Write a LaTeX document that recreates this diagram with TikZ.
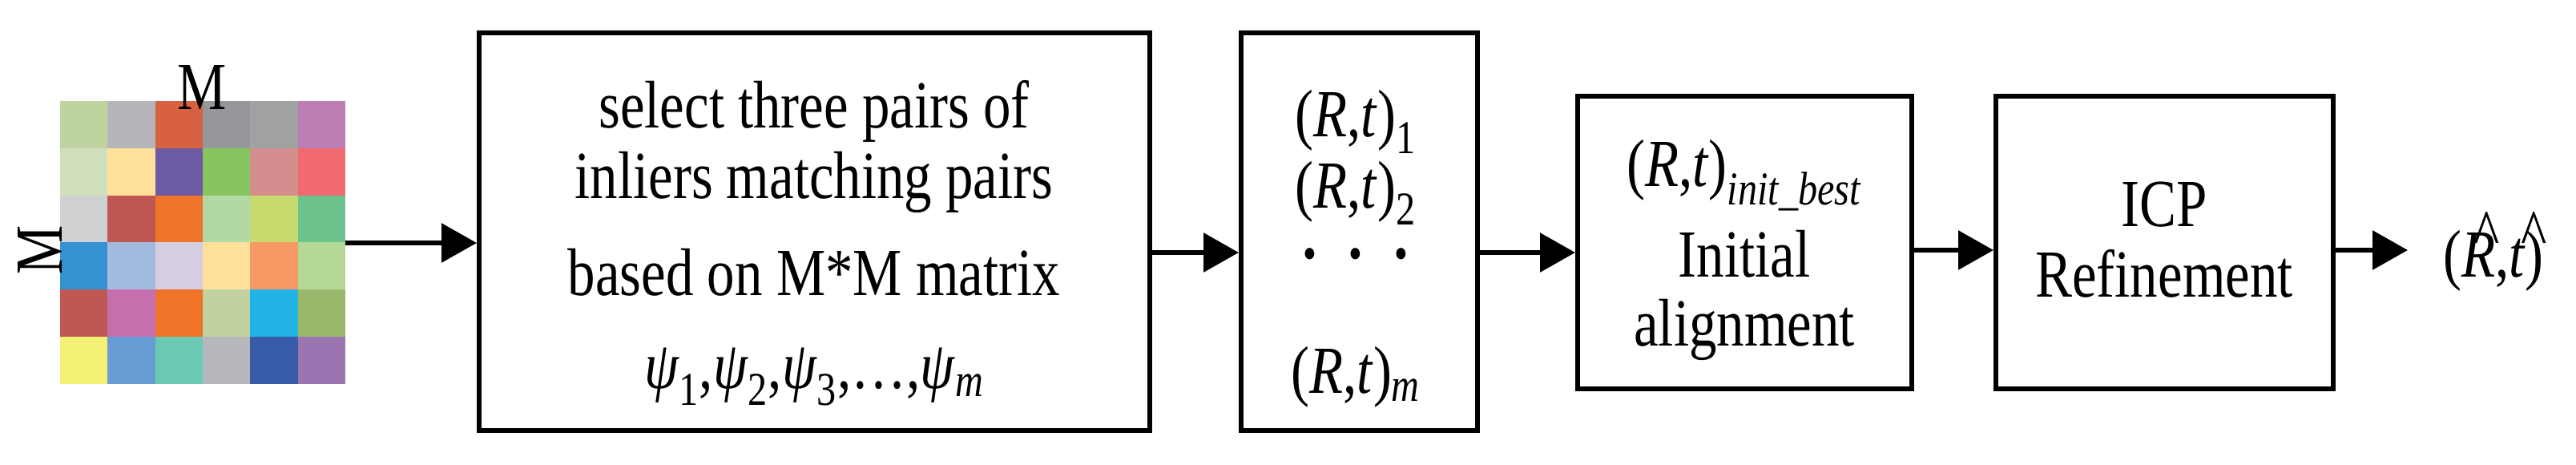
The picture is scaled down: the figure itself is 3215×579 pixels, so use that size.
\documentclass[tikz,border=0pt]{standalone}
\usepackage{fontspec}
\setmainfont{Liberation Serif}[FakeStretch=0.82]
\usetikzlibrary{arrows.meta}
\newcommand{\myRt}[1]{(\textit{R},\textit{t})\textsubscript{#1}}
\newcommand{\hatit}[1]{\leavevmode\rlap{\raisebox{0.3em}{\kern0.18em\textasciicircum}}\textit{#1}}
\begin{document}
\begin{tikzpicture}[x=0.5pt,y=-0.5pt,
  box/.style={draw,line width=3pt,inner sep=0pt},
  txt/.style={font=\fontsize{42}{48}\selectfont,inner sep=0pt,anchor=base},
  arr/.style={line width=3pt,-{Triangle[length=22pt,width=24pt]}}]
\useasboundingbox (0,0) rectangle (3215,579);
% grid
\def\cw{59.33}\def\ch{58.83}
\foreach \row/\cols in {0/{BED3A0,B5B6B9,D86142,96979A,A0A1A2,BC7FB4},
 1/{D2DFBD,FDE09A,6C5AA5,87C560,D58E8E,F06A70},
 2/{D0D1D3,BF5753,EF7329,B2D9A3,C7DB6E,6DC38C},
 3/{3592D0,A3BADF,D5CEE1,FDE09A,F69964,B4D995},
 4/{BF5753,C570AC,EF7329,BFD2A0,22B3E6,9AB86B},
 5/{F4EF75,679CD4,6BC8B3,B6B7BA,395CA9,9B74B2}}{
  \foreach \c [count=\i from 0] in \cols {
    \definecolor{cc}{HTML}{\c}
    \fill[cc] (75+\i*\cw,126+\row*\ch) rectangle ++(\cw,\ch);
  }
}
\node[txt] (mt) at (252,136) {M};
\node[txt,rotate=90,anchor=center] (ml) at (50,312) {M};
\coordinate (g) at (431,303);
% boxes
\node[box,minimum width=418.5pt,minimum height=248pt] (b1) at (1016.5,289) {};
\node[box,minimum width=147.5pt,minimum height=248pt] (b2) at (1696.5,289) {};
\node[box,minimum width=208.5pt,minimum height=182.5pt] (b3) at (2177.5,302.5) {};
\node[box,minimum width=210.5pt,minimum height=182.5pt] (b4) at (2701.5,302.5) {};
% texts
\node[txt] (t11) at (1016,159) {select three pairs of};
\node[txt] (t12) at (1016,247) {inliers matching pairs};
\node[txt] (t13) at (1016,368) {based on M*M matrix};
\node[txt] (t14) at (1016,484) {\textit{ψ}\textsubscript{1},\textit{ψ}\textsubscript{2},\textit{ψ}\textsubscript{3},…,\textit{ψ}\textsubscript{\textit{m}}};
\node[txt] (t21) at (1692,170) {\myRt{1}};
\node[txt] (t22) at (1692,259) {\myRt{2}};
\node[txt] (t23) at (1692,356) {{\fontsize{60}{60}\selectfont · · ·}};
\node[txt] (t24) at (1692,490) {\myRt{\textit{m}}};
\node[txt] (t31) at (2177,232) {\myRt{\textit{init\_best}}};
\node[txt] (t32) at (2177,345) {Initial};
\node[txt] (t33) at (2177,431) {alignment};
\node[txt] (t41) at (2701,282) {ICP};
\node[txt] (t42) at (2701,370) {Refinement};
\node[txt] (out) at (3112,345) {(\hatit{R},\hatit{t})};
% arrows
\draw[arr] (g) -- (g -| b1.west);
\coordinate (a2) at (1435,315);
\draw[arr] (a2 -| b1.east) -- (a2 -| b2.west);
\draw[arr] (a2 -| b2.east) -- (a2 -| b3.west);
\coordinate (a3) at (2386,312);
\draw[arr] (a3 -| b3.east) -- (a3 -| b4.west);
\coordinate (oe) at (3005,312);
\draw[arr] (a3 -| b4.east) -- (oe);
\end{tikzpicture}
\end{document}
